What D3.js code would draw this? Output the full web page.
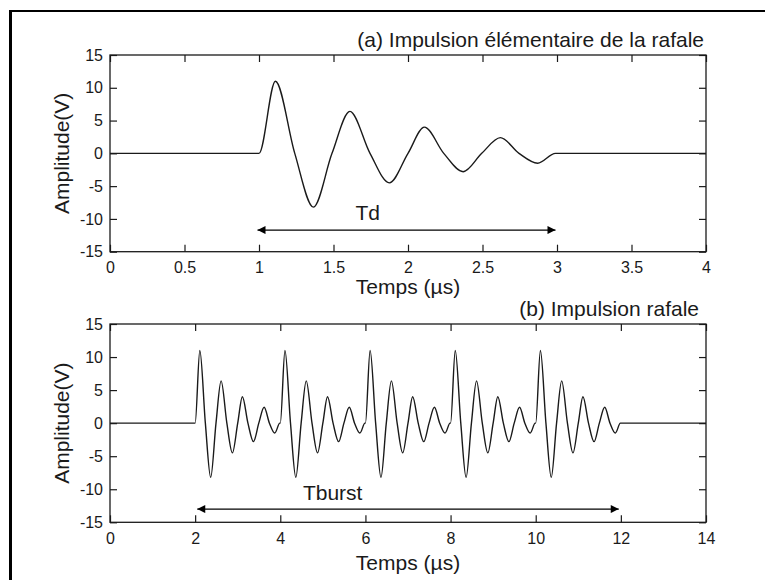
<!DOCTYPE html>
<html>
<head>
<meta charset="utf-8">
<script src="https://cdn.jsdelivr.net/npm/d3@7"></script>
<style>
  html, body { margin: 0; padding: 0; background: #fff; }
  svg { display: block; font-family: "Liberation Sans", Arial, sans-serif; }
</style>
</head>
<body>
<svg id="chart" width="765" height="580"></svg>
<script>
// One elementary pulse: time offset from its start (µs) and amplitude (V)
const pulseOffsets = [0, 0.11, 0.24, 0.365, 0.49, 0.61, 0.745, 0.875, 1.0, 1.11, 1.24, 1.37, 1.495, 1.62, 1.745, 1.87, 1.99];
const pulseValues  = [0, 11.0, 0,   -8.2,   0,   6.4,  0,    -4.5,  0,   4.0,  0,   -2.8,  0,     2.4,  0,     -1.5,  0];

// Panel (a): a single pulse starting at 1 µs
const pulseStartA = 1;
const domainA = [0, 4];
const ticksA = [0, 0.5, 1, 1.5, 2, 2.5, 3, 3.5, 4];

// Panel (b): burst made of pulses starting every 2 µs
const burstStarts = [2, 4, 6, 8, 10];
const domainB = [0, 14];
const ticksB = [0, 2, 4, 6, 8, 10, 12, 14];

const yDomain = [-15, 15];
const yTicks = [-15, -10, -5, 0, 5, 10, 15];

// Duration arrows and their labels
const arrowA = { from: 0.99, to: 2.99, level: -11.7, label: "Td", labelX: 1.73, labelY: -10.2 };
const arrowB = { from: 2.05, to: 11.95, level: -13, label: "Tburst", labelX: 5.23, labelY: -11.7 };

const titleA = "(a) Impulsion élémentaire de la rafale";
const titleB = "(b) Impulsion rafale";
const xLabel = "Temps (µs)";
const yLabel = "Amplitude(V)";

// Plain hyphen for negative numbers
const plainFmt = d => String(d);

function pulseAt(start) {
  return pulseOffsets.map((o, i) => ({ t: start + o, v: pulseValues[i] }));
}

function buildSeries(starts, domain) {
  const pts = [{ t: domain[0], v: 0 }];
  starts.forEach(s => pts.push(...pulseAt(s)));
  pts.push({ t: domain[1], v: 0 });
  return pts;
}

const svg = d3.select("#chart");
const ink = "#1a1a1a";

// Outer frame (top and left edges)
svg.append("line").attr("x1", 10).attr("y1", 11).attr("x2", 765).attr("y2", 11)
  .attr("stroke", "#000").attr("stroke-width", 2);
svg.append("line").attr("x1", 10.5).attr("y1", 10).attr("x2", 10.5).attr("y2", 580)
  .attr("stroke", "#000").attr("stroke-width", 3);

svg.append("defs").append("marker")
  .attr("id", "head").attr("viewBox", "0 0 10 10")
  .attr("refX", 10).attr("refY", 5)
  .attr("markerWidth", 9).attr("markerHeight", 8)
  .attr("markerUnits", "userSpaceOnUse")
  .attr("orient", "auto-start-reverse")
  .append("path").attr("d", "M0,0 L10,5 L0,10 Z").attr("fill", "#000");

function panel(cfg) {
  const { left, right, top, bottom, domain, ticks, series, title, titleX, titleY, arrow, xLabelY } = cfg;
  const x = d3.scaleLinear().domain(domain).range([left, right]);
  const y = d3.scaleLinear().domain(yDomain).range([bottom, top]);
  const g = svg.append("g");

  const tickSize = -7;
  const styleAxis = sel => {
    sel.select(".domain").remove();
    sel.selectAll(".tick line").attr("stroke", ink).attr("stroke-width", 1.2);
    sel.selectAll(".tick text").attr("fill", ink).attr("font-size", 16)
      .attr("font-family", "'Liberation Sans', Arial, sans-serif");
  };

  g.append("g").attr("transform", `translate(0,${bottom})`)
    .call(d3.axisBottom(x).tickValues(ticks).tickFormat(plainFmt).tickSize(tickSize).tickPadding(10))
    .call(styleAxis);
  g.append("g").attr("transform", `translate(0,${top})`)
    .call(d3.axisTop(x).tickValues(ticks).tickFormat("").tickSize(tickSize))
    .call(styleAxis);
  g.append("g").attr("transform", `translate(${left},0)`)
    .call(d3.axisLeft(y).tickValues(yTicks).tickFormat(plainFmt).tickSize(tickSize).tickPadding(7))
    .call(styleAxis);
  g.append("g").attr("transform", `translate(${right},0)`)
    .call(d3.axisRight(y).tickValues(yTicks).tickFormat("").tickSize(tickSize))
    .call(styleAxis);

  // Box
  g.append("rect").attr("x", left).attr("y", top).attr("width", right - left).attr("height", bottom - top)
    .attr("fill", "none").attr("stroke", ink).attr("stroke-width", 1.3);

  // Signal
  const line = d3.line().x(d => x(d.t)).y(d => y(d.v)).curve(d3.curveMonotoneX);
  g.append("path").datum(series).attr("d", line)
    .attr("fill", "none").attr("stroke", ink).attr("stroke-width", 1.4).attr("stroke-linejoin", "round");

  // Duration arrow
  g.append("line")
    .attr("x1", x(arrow.from)).attr("x2", x(arrow.to))
    .attr("y1", y(arrow.level)).attr("y2", y(arrow.level))
    .attr("stroke", "#000").attr("stroke-width", 1.2)
    .attr("marker-start", "url(#head)").attr("marker-end", "url(#head)");
  g.append("text").attr("x", x(arrow.labelX)).attr("y", y(arrow.labelY))
    .attr("text-anchor", "middle").attr("font-size", 21).attr("fill", ink)
    .text(arrow.label);

  // Title
  g.append("text").attr("x", titleX).attr("y", titleY).attr("text-anchor", "end")
    .attr("font-size", 21).attr("fill", ink).text(title);

  // Axis labels
  g.append("text").attr("x", (left + right) / 2).attr("y", xLabelY)
    .attr("text-anchor", "middle").attr("font-size", 21).attr("fill", ink).text(xLabel);
  g.append("text").attr("transform", `translate(69,${(top + bottom) / 2}) rotate(-90)`)
    .attr("text-anchor", "middle").attr("font-size", 21).attr("fill", ink).text(yLabel);
}

panel({
  left: 110, right: 706, top: 55, bottom: 251.7,
  domain: domainA, ticks: ticksA,
  series: buildSeries([pulseStartA], domainA),
  title: titleA, titleX: 704, titleY: 47,
  arrow: arrowA, xLabelY: 294
});

panel({
  left: 110, right: 706, top: 324, bottom: 522.3,
  domain: domainB, ticks: ticksB,
  series: buildSeries(burstStarts, domainB),
  title: titleB, titleX: 699, titleY: 316,
  arrow: arrowB, xLabelY: 570
});
</script>
</body>
</html>
